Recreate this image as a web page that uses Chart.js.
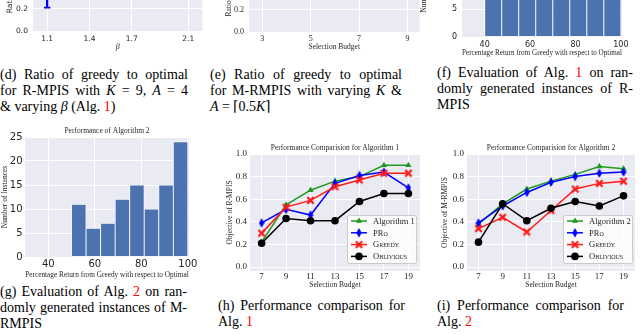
<!DOCTYPE html>
<html><head><meta charset="utf-8">
<script src="https://cdn.jsdelivr.net/npm/chart.js@4.4.0/dist/chart.umd.min.js"></script>
<style>
html,body{margin:0;padding:0;width:640px;height:334px;overflow:hidden;background:#fff}
body{position:relative}
canvas.c{position:absolute;display:block}
.cap{position:absolute;font-family:"Liberation Serif","Times New Roman",serif;font-size:14px;line-height:16px;color:#000}
.cap div{height:16px;text-align:justify;text-align-last:justify}
.cap div.last{text-align-last:left}
.red{color:#f00}
</style></head><body>
<canvas class="c" id="cd"></canvas>
<canvas class="c" id="ce"></canvas>
<canvas class="c" id="cf"></canvas>
<canvas class="c" id="cg"></canvas>
<canvas class="c" id="ch"></canvas>
<canvas class="c" id="ci"></canvas>

<div class="cap" style="left:0;top:67px;width:188px">
<div>(d) Ratio of greedy to optimal</div>
<div>for R-MPIS with <i>K</i> = 9, <i>A</i> = 4</div>
<div class="last">&amp; varying <i>β</i> (Alg. <span class="red">1</span>)</div>
</div>
<div class="cap" style="left:210px;top:67px;width:192px">
<div>(e) Ratio of greedy to optimal</div>
<div>for M-RMPIS with varying <i>K</i> &amp;</div>
<div class="last"><i>A</i> = ⌈0.5<i>K</i>⌉</div>
</div>
<div class="cap" style="left:437px;top:65px;width:196px">
<div>(f) Evaluation of Alg. <span class="red">1</span> on ran-</div>
<div>domly generated instances of R-</div>
<div class="last">MPIS</div>
</div>
<div class="cap" style="left:0;top:284px;width:187px">
<div>(g) Evaluation of Alg. <span class="red">2</span> on ran-</div>
<div>domly generated instances of M-</div>
<div class="last">RMPIS</div>
</div>
<div class="cap" style="left:218px;top:298px;width:187px">
<div>(h) Performance comparison for</div>
<div class="last">Alg. <span class="red">1</span></div>
</div>
<div class="cap" style="left:437px;top:298px;width:187px">
<div>(i) Performance comparison for</div>
<div class="last">Alg. <span class="red">2</span></div>
</div>

<script>
// ---------------- DATA ----------------
const betaValues = [1.1, 1.4, 1.7, 2.1];
const ratioBetaMean = [0.62, 0.93, 0.95, 0.97];
const ratioBetaLow = [0.21, 0.85, 0.90, 0.93];
const ratioBetaHigh = [1.0, 1.0, 1.0, 1.0];

const budgetsSmall = [3, 5, 7, 9];
const ratioBudget = [0.95, 0.93, 0.92, 0.94];

const histEdgesF = [40, 47.5, 55, 62.5, 70, 77.5, 85, 92.5, 100];
const histCountsF = [9, 10, 12, 11, 13, 15, 14, 16];
const histEdgesG = [50, 56.25, 62.5, 68.75, 75, 81.25, 87.5, 93.75, 100];
const histCountsG = [11, 6, 7, 12, 15, 10, 15, 24];

const budgets = [7, 9, 11, 13, 15, 17, 19];
const alg1    = [0.22, 0.55, 0.68, 0.76, 0.80, 0.90, 0.90];
const pro1    = [0.39, 0.51, 0.46, 0.74, 0.81, 0.84, 0.70];
const greedy1 = [0.30, 0.53, 0.59, 0.71, 0.77, 0.83, 0.83];
const obl1    = [0.21, 0.43, 0.41, 0.41, 0.58, 0.65, 0.65];
const alg2    = [0.38, 0.56, 0.69, 0.76, 0.82, 0.89, 0.87];
const pro2    = [0.39, 0.54, 0.66, 0.75, 0.80, 0.83, 0.84];
const greedy2 = [0.34, 0.44, 0.31, 0.50, 0.69, 0.74, 0.76];
const obl2    = [0.22, 0.56, 0.41, 0.52, 0.58, 0.54, 0.63];

const ratioTicks = [0, 0.2, 0.4, 0.6, 0.8, 1.0];
const betaTicks = [1.1, 1.4, 1.7, 2.1];
const budgetSmallTicks = [3, 5, 7, 9];
const budgetTicks = [7, 9, 11, 13, 15, 17, 19];
const countTicks = [0, 5, 10, 15, 20, 25];
const pctTicks = [40, 60, 80, 100];

// ---------------- STYLE ----------------
const BG = '#eaeaf2', BAR = '#4c72b0', TXT = '#262626';
const SERIF = '"Liberation Serif", "Times New Roman", serif';
const SANS = '"DejaVu Sans", sans-serif';
const GREEN = '#1e9a1e', BLUE = '#0000ff', RED = '#ff1a1a', BLACK = '#000000';

Chart.register({
  id: 'bgfill',
  beforeDraw(chart) {
    const {ctx, chartArea: a} = chart;
    ctx.save(); ctx.fillStyle = BG;
    ctx.fillRect(a.left, a.top, a.right - a.left, a.bottom - a.top);
    ctx.restore();
  }
});

function place(id, left, top, w, h) {
  const c = document.getElementById(id);
  c.style.left = left + 'px'; c.style.top = top + 'px';
  c.style.width = w + 'px'; c.style.height = h + 'px';
  c.width = w; c.height = h;
  return c;
}

function axis(o) {
  return {
    type: 'linear', position: o.pos, min: o.min, max: o.max, offset: false,
    afterBuildTicks: s => { s.ticks = o.ticks.map(v => ({value: v})); },
    afterFit: s => { if (o.pos === 'left') s.width = o.size; else s.height = o.size; },
    grid: {color: '#ffffff', lineWidth: 1, drawTicks: false, offset: false},
    border: {display: false},
    ticks: {color: TXT, font: o.tickFont, padding: o.tickPad, autoSkip: false, maxRotation: 0,
            callback: o.fmt || (v => String(v))},
    title: {display: !!o.title, text: o.title, color: TXT, font: o.titleFont, padding: o.titlePad}
  };
}
const f1 = v => v.toFixed(1);

function makeMarker(kind, color) {
  const c = document.createElement('canvas');
  const g = () => c.getContext('2d');
  if (kind === 'thin') {
    c.width = 6; c.height = 10; const x = g();
    x.fillStyle = color; x.beginPath();
    x.moveTo(3, 0.3); x.lineTo(5.7, 5); x.lineTo(3, 9.7); x.lineTo(0.3, 5); x.closePath(); x.fill();
  } else {
    c.width = 9; c.height = 9; const x = g();
    x.strokeStyle = color; x.lineWidth = 2.3; x.beginPath();
    x.moveTo(1.3, 1.3); x.lineTo(7.7, 7.7); x.moveTo(7.7, 1.3); x.lineTo(1.3, 7.7); x.stroke();
  }
  return c;
}

function drawMarker(ctx, ds, x, y) {
  const ps = ds.pointStyle, r = ds.pointRadius;
  ctx.save();
  ctx.fillStyle = ds.pointBackgroundColor;
  if (typeof ps === 'object') {
    ctx.drawImage(ps, x - ps.width / 2, y - ps.height / 2);
  } else if (ps === 'circle') {
    ctx.beginPath(); ctx.arc(x, y, r, 0, Math.PI * 2); ctx.fill();
  } else if (ps === 'triangle') {
    const s = r * Math.sqrt(3);
    ctx.beginPath();
    ctx.moveTo(x, y - r); ctx.lineTo(x + s / 2, y + r / 2); ctx.lineTo(x - s / 2, y + r / 2);
    ctx.closePath(); ctx.fill();
  }
  ctx.restore();
}

const mplLegend = {
  id: 'mplLegend',
  afterDraw(chart, args, o) {
    if (!o || !o.show) return;
    const ctx = chart.ctx, a = chart.chartArea;
    const x0 = a.right - o.mr - o.w, y0 = a.bottom - o.mb - o.h;
    ctx.save();
    ctx.beginPath();
    if (ctx.roundRect) ctx.roundRect(x0 + 0.5, y0 + 0.5, o.w, o.h, 2); else ctx.rect(x0 + 0.5, y0 + 0.5, o.w, o.h);
    ctx.fillStyle = 'rgba(255,255,255,0.8)'; ctx.fill();
    ctx.strokeStyle = '#cccccc'; ctx.lineWidth = 1; ctx.stroke();
    chart.data.datasets.forEach((ds, i) => {
      const y = y0 + o.padTop + i * o.rowH;
      ctx.strokeStyle = ds.borderColor; ctx.lineWidth = ds.borderWidth;
      ctx.beginPath(); ctx.moveTo(x0 + o.l0, y); ctx.lineTo(x0 + o.l1, y); ctx.stroke();
      drawMarker(ctx, ds, x0 + (o.l0 + o.l1) / 2, y);
      ctx.fillStyle = TXT; ctx.textAlign = 'left'; ctx.textBaseline = 'middle';
      ctx.font = (ds.smallCaps ? 'small-caps ' : '') + o.size + 'px ' + SERIF;
      ctx.fillText(ds.label, x0 + o.tx, y + 0.5);
    });
    ctx.restore();
  }
};

function lineDS(label, ys, color, ps, r, order, smallCaps) {
  return {
    type: 'line', label, smallCaps,
    data: budgets.map((x, i) => ({x, y: ys[i]})),
    borderColor: color, backgroundColor: color, borderWidth: 1.5, tension: 0,
    pointStyle: ps, pointRadius: r, pointHoverRadius: r, pointBorderWidth: 0,
    pointBackgroundColor: color, pointBorderColor: color, order
  };
}

const common = {responsive: false, animation: false, events: [],
  plugins: {legend: {display: false}, tooltip: {enabled: false}}};

// ---------- (d) ratio vs beta ----------
place('cd', 0, -112, 208, 164);
new Chart('cd', {
  type: 'line',
  data: {datasets: [
    {type: 'bar', data: betaValues.map((x, i) => ({x, y: [ratioBetaLow[i], ratioBetaHigh[i]]})),
     backgroundColor: BLUE, barThickness: 1.6, grouped: false, order: 2},
    {type: 'line', data: betaValues.map((x, i) => ({x, y: ratioBetaLow[i]})), showLine: false,
     pointStyle: 'line', pointRadius: 3.2, pointBorderWidth: 1.6, borderColor: BLUE, order: 1},
    {type: 'line', data: betaValues.map((x, i) => ({x, y: ratioBetaMean[i]})),
     borderColor: BLUE, backgroundColor: BLUE, borderWidth: 1.5, pointRadius: 2.5, order: 0}
  ]},
  options: {...common, layout: {padding: {top: 5, right: 5, left: 0, bottom: 0}},
    scales: {
      x: axis({pos: 'bottom', min: 1.0, max: 2.2, ticks: betaTicks, size: 21, fmt: f1,
        tickFont: {family: SANS, size: 7.5}, tickPad: 3.8,
        title: 'β', titleFont: {family: SERIF, size: 8, style: 'italic'}, titlePad: {top: 0, bottom: 0.5}}),
      y: axis({pos: 'left', min: 0, max: 1.2, ticks: ratioTicks, size: 33, fmt: f1,
        tickFont: {family: SANS, size: 7.5}, tickPad: 5,
        title: 'Ratio of greedy to optimal', titleFont: {family: SANS, size: 7.5}, titlePad: {top: 5.5, bottom: 0}})
    }}
});

// ---------- (e) ratio vs budget ----------
place('ce', 210, -88, 215, 141);
new Chart('ce', {
  type: 'line',
  data: {datasets: [
    {data: budgetsSmall.map((x, i) => ({x, y: ratioBudget[i]})), borderColor: BLUE,
     backgroundColor: BLUE, borderWidth: 1.5, pointRadius: 2.5}
  ]},
  options: {...common, layout: {padding: {top: 5, right: 4, left: 0, bottom: 0}},
    scales: {
      x: axis({pos: 'bottom', min: 2.45, max: 9.5, ticks: budgetSmallTicks, size: 21,
        tickFont: {family: SERIF, size: 8}, tickPad: 1.7,
        title: 'Selection Budget', titleFont: {family: SERIF, size: 7.5}, titlePad: {top: 0, bottom: 1.8}}),
      y: axis({pos: 'left', min: 0, max: 1.0, ticks: ratioTicks, size: 39, fmt: f1,
        tickFont: {family: SERIF, size: 8}, tickPad: 5,
        title: 'Ratio of greedy to optimal', titleFont: {family: SERIF, size: 7.5}, titlePad: {top: 14.5, bottom: 0}})
    }}
});

// ---------- histogram helper ----------
function hist(id, edges, counts, opt) {
  const centers = counts.map((_, i) => (edges[i] + edges[i + 1]) / 2);
  return new Chart(id, {
    type: 'bar',
    data: {datasets: [{
      data: centers.map((x, i) => ({x, y: counts[i]})),
      backgroundColor: BAR, borderColor: 'rgba(255,255,255,0.9)', borderWidth: 0.8,
      borderSkipped: false, barPercentage: 1, categoryPercentage: 1, grouped: false
    }]},
    options: {...common, layout: {padding: opt.pad},
      plugins: {...common.plugins, title: opt.title ? {display: true, text: opt.title, color: TXT,
        font: {family: SERIF, size: 7.5, weight: 'normal'}, padding: opt.titlePad, fullSize: false} : {display: false}},
      scales: {x: opt.x, y: opt.y}}
  });
}

// ---------- (f) ----------
place('cf', 418, -84, 214, 143);
hist('cf', histEdgesF, histCountsF, {
  pad: {top: 5, right: 10, left: 0, bottom: 0},
  x: axis({pos: 'bottom', min: 30, max: 100.5, ticks: pctTicks, size: 22,
    tickFont: {family: SANS, size: 8}, tickPad: 3.2,
    title: 'Percentage Return from Greedy with respect to Optimal', titleFont: {family: SERIF, size: 7.3}, titlePad: {top: 0, bottom: 1.2}}),
  y: axis({pos: 'left', min: 0, max: 20, ticks: countTicks, size: 44,
    tickFont: {family: SANS, size: 8}, tickPad: 5,
    title: 'Number of Instances', titleFont: {family: SERIF, size: 7.5}, titlePad: {top: 1.5, bottom: 0}})
});

// ---------- (g) ----------
place('cg', 0, 125, 205, 155);
hist('cg', histEdgesG, histCountsG, {
  pad: {top: 0, right: 16, left: 0, bottom: 0},
  title: 'Performance of Algorithm 2', titlePad: {top: 1.5, bottom: 1.5},
  x: axis({pos: 'bottom', min: 30, max: 100.5, ticks: pctTicks, size: 23,
    tickFont: {family: SANS, size: 10}, tickPad: 1,
    title: 'Percentage Return from Greedy with respect to Optimal', titleFont: {family: SERIF, size: 7.3}, titlePad: {top: 0, bottom: 1}}),
  y: axis({pos: 'left', min: 0, max: 25, ticks: countTicks, size: 25,
    tickFont: {family: SANS, size: 10}, tickPad: 2.5,
    title: 'Number of Instances', titleFont: {family: SERIF, size: 7.5}, titlePad: {top: 0.5, bottom: 0}})
});

// ---------- (h), (i) performance comparison ----------
function perf(id, left, ywidth, padRight, title, yTitle, algLabel, algData, proData, greedyData, oblData, legendMr) {
  place(id, left, 138, 215, 153);
  const thin = makeMarker('thin', BLUE), xm = makeMarker('x', RED);
  return new Chart(id, {
    type: 'line',
    data: {datasets: [
      lineDS(algLabel, algData, GREEN, 'triangle', 3.6, 4, false),
      lineDS('PRo', proData, BLUE, thin, 5, 3, true),
      lineDS('Greedy', greedyData, RED, xm, 4.5, 2, true),
      lineDS('Oblivious', oblData, BLACK, 'circle', 3.8, 1, true)
    ]},
    plugins: [mplLegend],
    options: {...common, layout: {padding: {top: 0, right: padRight, left: 0, bottom: 0}},
      plugins: {...common.plugins,
        title: {display: true, text: title, color: TXT, font: {family: SERIF, size: 7.5, weight: 'normal'},
                padding: {top: 5.5, bottom: 1.5}, fullSize: false},
        mplLegend: {show: true, w: 69, h: 48, mr: legendMr, mb: 8, padTop: 6, rowH: 11.8, l0: 4, l1: 20, tx: 26, size: 8.5}},
      scales: {
        x: axis({pos: 'bottom', min: 6.05, max: 19.95, ticks: budgetTicks, size: 20,
          tickFont: {family: SERIF, size: 9}, tickPad: 0.6,
          title: 'Selection Budget', titleFont: {family: SERIF, size: 7.5}, titlePad: {top: 0, bottom: 1.5}}),
        y: axis({pos: 'left', min: -0.035, max: 1.0, ticks: ratioTicks, size: ywidth, fmt: f1,
          tickFont: {family: SERIF, size: 9}, tickPad: 3,
          title: yTitle, titleFont: {family: SERIF, size: 7.5}, titlePad: {top: 15.5, bottom: 0}})
      }}
  });
}

perf('ch', 210, 40, 4, 'Performance Comparision for Algorithm 1', 'Objective of R-MPIS',
     'Algorithm 1', alg1, pro1, greedy1, obl1, 4);
perf('ci', 425, 42, 0, 'Performance Comparision for Algorithm 2', 'Objective of M-RMPIS',
     'Algorithm 2', alg2, pro2, greedy2, obl2, 3);
</script>
</body></html>
